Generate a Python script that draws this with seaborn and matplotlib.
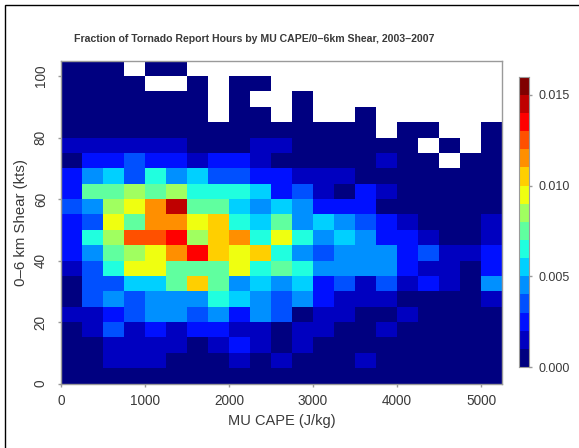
import numpy as np
import pandas as pd
import matplotlib
matplotlib.use('Agg')
import matplotlib.pyplot as plt
from matplotlib.colors import ListedColormap
from matplotlib.patches import Rectangle
import seaborn as sns

# Nilai, satuan 0.001 (batas bawah kelas warna), n = kosong
n = np.nan
cape_bins = [250 * i for i in range(21)]
shear_bins = [5 * i for i in range(21)]

shear_000 = [0, 0, 0, 0, 0, 0, 0, 0, 0, 0, 0, 0, 0, 0, 0, 0, 0, 0, 0, 0, 0]
shear_005 = [0, 0, 1, 1, 1, 0, 0, 0, 1, 0, 1, 0, 0, 0, 1, 0, 0, 0, 0, 0, 0]
shear_010 = [0, 0, 1, 1, 1, 1, 0, 1, 2, 1, 0, 1, 0, 0, 0, 0, 0, 0, 0, 0, 0]
shear_015 = [0, 1, 3, 1, 2, 1, 2, 2, 1, 1, 0, 1, 1, 0, 0, 1, 0, 0, 0, 0, 0]
shear_020 = [1, 1, 2, 3, 4, 4, 3, 4, 2, 4, 3, 0, 1, 1, 0, 0, 1, 0, 0, 0, 0]
shear_025 = [0, 3, 4, 3, 4, 4, 4, 6, 5, 4, 3, 4, 2, 1, 1, 1, 0, 0, 0, 0, 1]
shear_030 = [0, 3, 3, 5, 5, 7, 10, 7, 4, 5, 4, 5, 2, 3, 1, 3, 1, 2, 1, 0, 4]
shear_035 = [1, 3, 6, 9, 9, 7, 7, 7, 9, 6, 7, 6, 4, 4, 4, 4, 2, 1, 1, 0, 2]
shear_040 = [2, 4, 7, 8, 9, 11, 13, 10, 9, 10, 6, 4, 3, 4, 4, 4, 2, 3, 1, 1, 2]
shear_045 = [2, 6, 8, 12, 12, 13, 8, 10, 11, 6, 9, 6, 4, 5, 4, 2, 2, 1, 0, 0, 1]
shear_050 = [2, 3, 9, 7, 11, 11, 9, 10, 6, 5, 7, 4, 5, 4, 3, 2, 1, 0, 0, 0, 1]
shear_055 = [3, 4, 8, 9, 11, 14, 7, 7, 5, 4, 5, 4, 2, 2, 2, 0, 0, 0, 0, 0, 0]
shear_060 = [2, 7, 7, 8, 7, 8, 6, 6, 6, 5, 2, 3, 1, 0, 2, 1, 0, 0, 0, 0, 0]
shear_065 = [2, 4, 5, 3, 6, 4, 5, 3, 3, 2, 2, 1, 1, 1, 0, 0, 0, 0, 0, 0, 0]
shear_070 = [0, 2, 2, 3, 2, 2, 1, 2, 2, 1, 0, 0, 0, 0, 0, 1, 0, 0, n, 0, 0]
shear_075 = [1, 1, 1, 1, 1, 1, 0, 0, 0, 1, 1, 0, 0, 0, 0, 0, 0, n, 0, n, 0]
shear_080 = [0, 0, 0, 0, 0, 0, 0, 0, 0, 0, 0, 0, 0, 0, 0, n, 0, 0, n, n, 0]
shear_085 = [0, 0, 0, 0, 0, 0, 0, n, 0, 0, n, 0, n, n, 0, n, n, n, n, n, n]
shear_090 = [0, 0, 0, 0, 0, 0, 0, n, 0, n, n, 0, n, n, n, n, n, n, n, n, n]
shear_095 = [0, 0, 0, 0, n, n, 0, n, 0, 0, n, n, n, n, n, n, n, n, n, n, n]
shear_100 = [0, 0, 0, n, 0, 0, n, n, n, n, n, n, n, n, n, n, n, n, n, n, n]

rows = [shear_000, shear_005, shear_010, shear_015, shear_020, shear_025, shear_030,
        shear_035, shear_040, shear_045, shear_050, shear_055, shear_060, shear_065,
        shear_070, shear_075, shear_080, shear_085, shear_090, shear_095, shear_100]

# Warna kelas dari colorbar
level_colors = ['#000080', '#0000C0', '#0010FF', '#0050FF', '#0090FF', '#00D0FF', '#20FFDF', '#60FF9F',
                '#A0FF60', '#EFFF10', '#FFCF00', '#FF8F00', '#FF5000', '#FF0000', '#BF0000', '#800000']

# Nilai tengah kelas warna
df = pd.DataFrame((np.array(rows) + 0.5) / 1000, index=shear_bins, columns=cape_bins)

W, H = 579, 448
plt.rcParams['font.family'] = ['Liberation Sans', 'DejaVu Sans']
text_color = '#3a3a3a'
edge_color = '#9a9a9a'

fig = plt.figure(figsize=(W / 100, H / 100), dpi=100)
ax = fig.add_axes([61 / W, 1 - 383.5 / H, 441 / W, 322.8 / H])
cax = fig.add_axes([519 / W, 1 - 367 / H, 10 / W, 290.3 / H])

sns.heatmap(df, ax=ax, cbar_ax=cax, cmap=ListedColormap(level_colors), vmin=0, vmax=0.016,
            cbar_kws={'ticks': [0, 0.005, 0.010, 0.015], 'format': '%.3f'})
ax.invert_yaxis()

# Sumbu: posisi sel -> nilai CAPE dan shear
ax.set_xticks(np.arange(0, 21, 4))
ax.set_xticklabels([0, 1000, 2000, 3000, 4000, 5000], rotation=0, fontsize=9.8, color=text_color)
ax.set_yticks(np.arange(0, 21, 4))
ax.set_yticklabels([0, 20, 40, 60, 80, 100], rotation=90, va='center', fontsize=9.8, color=text_color)
ax.tick_params(axis='x', length=2.5, width=1, color=edge_color, pad=5)
ax.tick_params(axis='y', length=2.5, width=1, color=edge_color, pad=7)
ax.set_xlabel('MU CAPE (J/kg)', fontsize=10.5, color=text_color, labelpad=4.5)
ax.set_ylabel('0\u20136 km Shear (kts)', fontsize=10.8, color=text_color, labelpad=4)
for s in ax.spines.values():
    s.set_visible(True)
    s.set_color(edge_color)
    s.set_linewidth(1)

cax.tick_params(length=2.5, width=1, color=edge_color, labelsize=9, labelcolor=text_color, pad=4)
cax.set_frame_on(True)
for s in cax.spines.values():
    s.set_visible(True)
    s.set_color(edge_color)

fig.text(254.5 / W, 1 - 39 / H, 'Fraction of Tornado Report Hours by MU CAPE/0\u20136km Shear, 2003\u20132007',
         ha='center', va='center', fontsize=7.6, fontweight='bold', color=text_color)

# Bingkai hitam di luar plot
fig.add_artist(Rectangle((5 / W, -0.1), 1.1, 1.1 - 5 / H, transform=fig.transFigure,
                         fill=False, edgecolor='black', linewidth=1))

fig.savefig('out.png', dpi=100)
